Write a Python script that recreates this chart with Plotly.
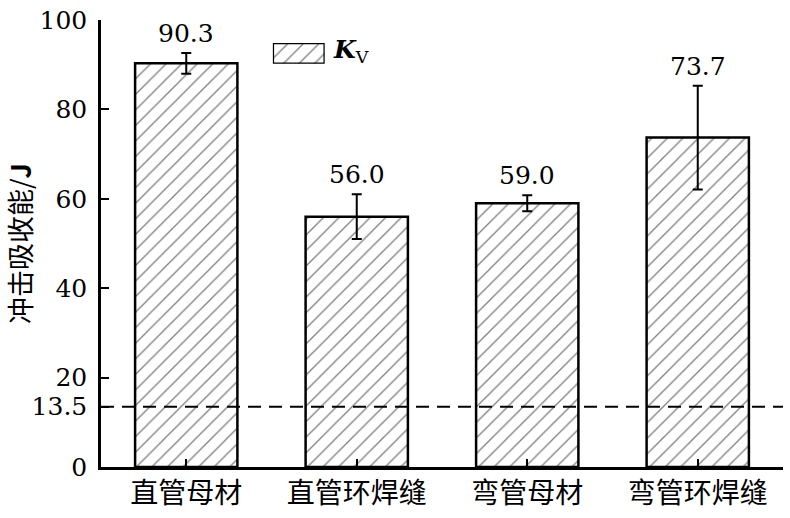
import plotly.graph_objects as go

categories = ["直管母材", "直管环焊缝", "弯管母材", "弯管环焊缝"]
kv_values = [90.3, 56.0, 59.0, 73.7]
kv_errors = [2.3, 5.0, 1.8, 11.6]
value_labels = ["90.3", "56.0", "59.0", "73.7"]
threshold = 13.5
y_tickvals = [0, 13.5, 20, 40, 60, 80, 100]
y_ticktext = ["0", "13.5", "20", "40", "60", "80", "100"]
legend_label = "<b><i>K</i></b><sub>V</sub>"
y_title = "冲击吸收能/<b>J</b>"

FONT = "'DejaVu Serif', 'Noto Sans CJK SC', serif"
CJK = "'Noto Sans CJK SC', sans-serif"

hatch = dict(shape="/", size=11, solidity=0.12, fgcolor="black", bgcolor="white")

fig = go.Figure()
fig.add_trace(go.Bar(
    x=categories, y=kv_values, width=0.6,
    marker=dict(color="white", line=dict(color="black", width=2.5), pattern=hatch),
    error_y=dict(type="data", array=kv_errors, visible=True, color="black", thickness=2, width=5),
    showlegend=False,
))

# legend key drawn as a small bar in an inset axis
fig.add_trace(go.Bar(
    x=[0], y=[1], width=1, xaxis="x2", yaxis="y2",
    marker=dict(color="white", line=dict(color="black", width=2.5), pattern=hatch),
    showlegend=False, hoverinfo="skip",
))

for c, v, e, t in zip(categories, kv_values, kv_errors, value_labels):
    fig.add_annotation(x=c, y=v + e, text=t, showarrow=False, yanchor="bottom",
                       yshift=3, font=dict(family=FONT, size=25, color="black"))

fig.add_hline(y=threshold, line=dict(color="black", width=2, dash="13px,8px"))

fig.add_annotation(xref="paper", yref="paper", x=0.337, y=0.93, text=legend_label,
                   showarrow=False, xanchor="left", yanchor="middle",
                   font=dict(family=FONT, size=25, color="black"))

fig.update_layout(
    width=790, height=518,
    margin=dict(l=101, r=7, t=20, b=51, autoexpand=False),
    plot_bgcolor="white", paper_bgcolor="white",
    font=dict(family=FONT, size=25, color="black"),
    xaxis=dict(range=[-0.5, 3.5], showline=True, linecolor="black", linewidth=2.5,
               ticks="inside", ticklen=8, tickwidth=2, tickcolor="black",
               tickfont=dict(family=CJK, size=28),
               showgrid=False, zeroline=False, automargin=False),
    yaxis=dict(range=[0, 100], showline=True, linecolor="black", linewidth=2.5,
               tickvals=y_tickvals, ticktext=y_ticktext,
               ticks="inside", ticklen=8, tickwidth=2, tickcolor="black",
               tickfont=dict(family=FONT, size=25), ticklabelstandoff=6,
               ticklabeloverflow="allow",
               title=dict(text=y_title, standoff=10,
                          font=dict(family=CJK, size=27)),
               showgrid=False, zeroline=False, automargin=False),
    xaxis2=dict(domain=[0.252, 0.328], range=[-0.5, 0.5], visible=False, anchor="y2",
                automargin=False),
    yaxis2=dict(domain=[0.902, 0.9485], range=[0, 1], visible=False, anchor="x2",
                automargin=False),
)

fig.write_html("out.html", config={"displayModeBar": False},
               post_script="document.body.style.margin='0';")
